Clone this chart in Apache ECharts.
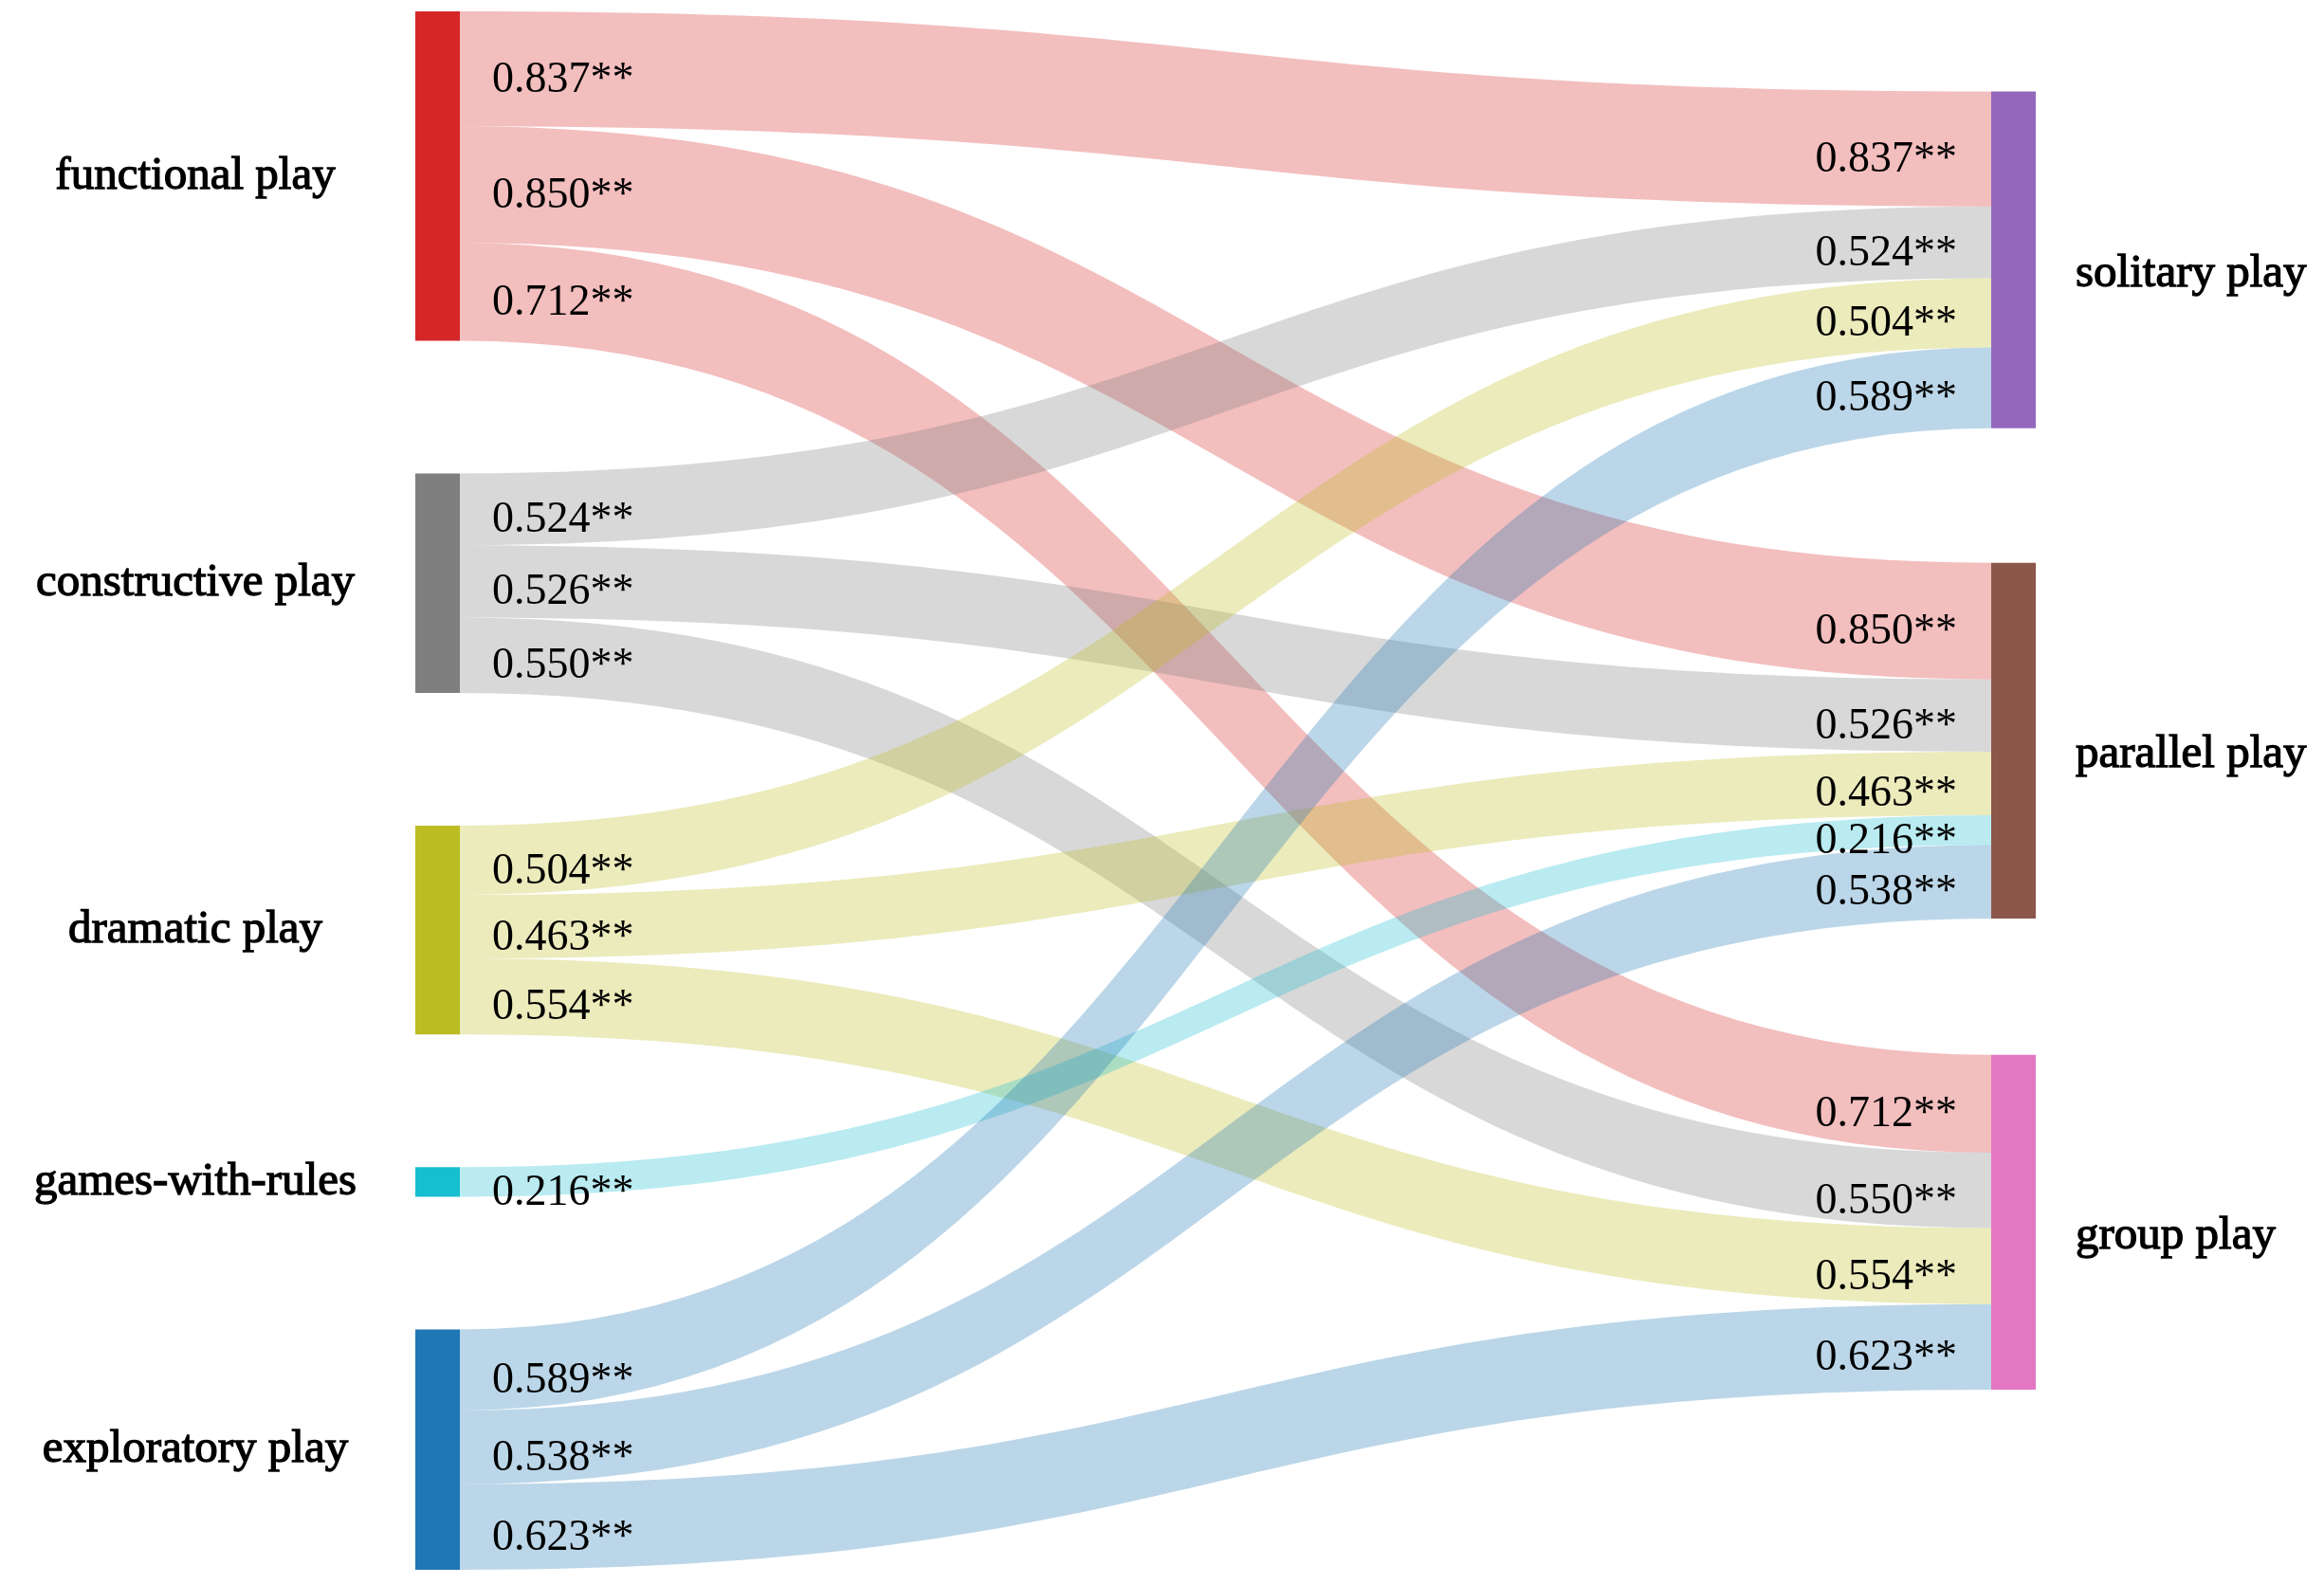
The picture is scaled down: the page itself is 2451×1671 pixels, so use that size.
<!DOCTYPE html>
<html>
<head>
<meta charset="utf-8">
<script src="https://cdn.jsdelivr.net/npm/echarts@6/dist/echarts.min.js"></script>
<style>
  html, body { margin: 0; padding: 0; background: #fff; }
  #chart { width: 2451px; height: 1671px; }
</style>
</head>
<body>
<div id="chart"></div>
<script>
var playTypes = ['functional play', 'constructive play', 'dramatic play', 'games-with-rules', 'exploratory play'];
var socialPlay = ['solitary play', 'parallel play', 'group play'];
// correlation of each play type with solitary / parallel / group play
var functionalR = [0.837, 0.850, 0.712];
var constructiveR = [0.524, 0.526, 0.550];
var dramaticR = [0.504, 0.463, 0.554];
var rulesR = [null, 0.216, null];
var exploratoryR = [0.589, 0.538, 0.623];
var sourceColors = ['#d62728', '#7f7f7f', '#bcbd22', '#17becf', '#1f77b4'];
var targetColors = ['#9467bd', '#8c564b', '#e377c2'];

var FONT = '"Liberation Serif", "Times New Roman", serif';
var rows = [functionalR, constructiveR, dramaticR, rulesR, exploratoryR];
// where the right column sits (share of the layout height)
var rightTop = [0.0514, 0.3538, 0.6696];

var nodes = [];
playTypes.forEach(function (name, i) {
    nodes.push({
        name: name,
        itemStyle: { color: sourceColors[i] },
        label: { position: 'left', distance: 232, align: 'center' }
    });
});
socialPlay.forEach(function (name, i) {
    nodes.push({
        name: name,
        localY: rightTop[i],
        itemStyle: { color: targetColors[i] },
        label: { position: 'right', distance: 42, offset: [0, 15] }
    });
});

var links = [];
rows.forEach(function (row, i) {
    row.forEach(function (v, j) {
        if (v != null) {
            links.push({ source: playTypes[i], target: socialPlay[j], value: v });
        }
    });
});

var myChart = echarts.init(document.getElementById('chart'));
var option = {
    backgroundColor: '#fff',
    animation: false,
    series: [{
        type: 'sankey',
        left: 438,
        top: 12,
        right: 304,
        bottom: 15,
        nodeWidth: 47,
        nodeGap: 140,
        layoutIterations: 0,
        draggable: false,
        emphasis: { disabled: true },
        data: nodes,
        links: links,
        label: {
            color: '#000',
            fontFamily: FONT,
            fontSize: 49,
            fontWeight: 'normal',
            textBorderColor: '#000',
            textBorderWidth: 1.3
        },
        lineStyle: { color: 'source', opacity: 0.3, curveness: 0.5 }
    }]
};
myChart.setOption(option);

// value labels at both ends of every link, placed from the sankey layout
var series = myChart.getModel().getSeriesByIndex(0);
var rect = series.layoutInfo;
var graph = series.getGraph();
function nodeTop(node) {
    var ly = node.getModel().get('localY');
    return ly != null ? ly * rect.height : node.getLayout().y;
}
var texts = [];
graph.eachEdge(function (edge) {
    var el = edge.getLayout();
    var n1 = edge.node1.getLayout();
    var n2 = edge.node2.getLayout();
    var txt = edge.getValue().toFixed(3) + '**';
    var style = { text: txt, fill: '#000', font: '46px ' + FONT, textVerticalAlign: 'middle' };
    texts.push({
        type: 'text',
        z: 100,
        x: rect.x + n1.x + n1.dx + 34,
        y: rect.y + nodeTop(edge.node1) + el.sy + el.dy / 2 + 12,
        style: echarts.util.extend({ textAlign: 'left' }, style)
    });
    texts.push({
        type: 'text',
        z: 100,
        x: rect.x + n2.x - 36,
        y: rect.y + nodeTop(edge.node2) + el.ty + el.dy / 2 + 12,
        style: echarts.util.extend({ textAlign: 'right' }, style)
    });
});
myChart.setOption({ graphic: texts });
</script>
</body>
</html>
